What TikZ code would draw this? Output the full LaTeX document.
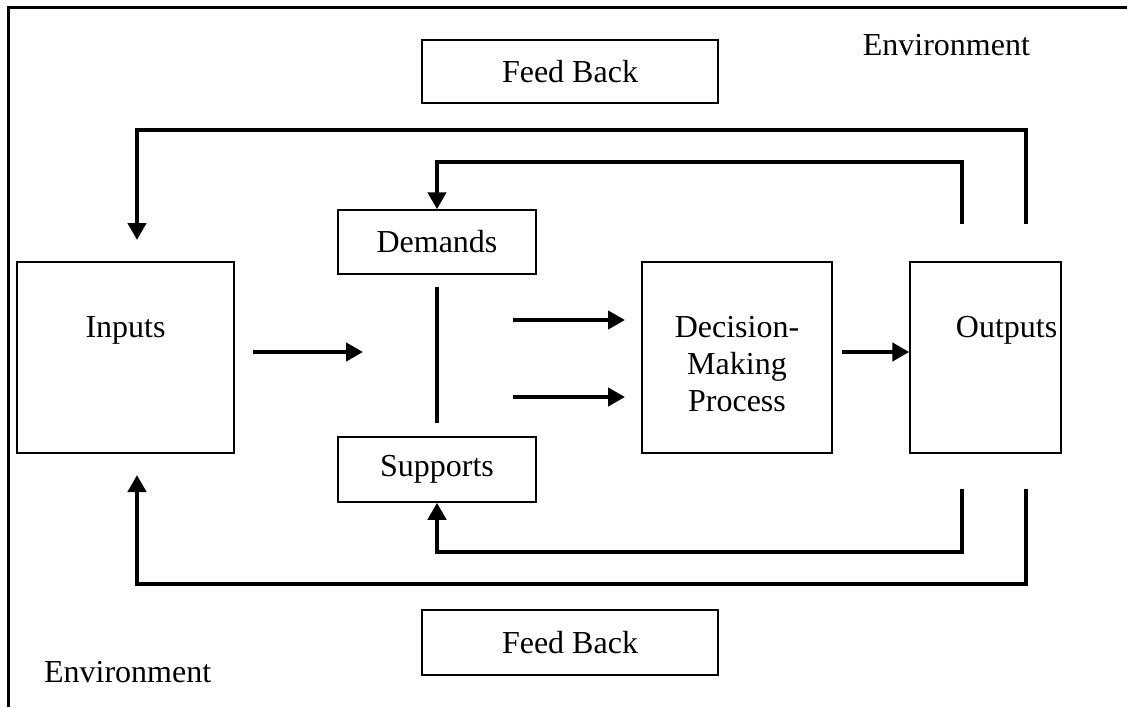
\documentclass[tikz,border=0pt]{standalone}
\usepackage{fontspec}
\setmainfont{Liberation Serif}
\usetikzlibrary{arrows.meta,positioning,calc}

\tikzset{
  box/.style={draw,line width=0.75pt,inner sep=0pt},
  boxtext/.style={inner sep=0pt},
  fb/.style={line width=2.4pt,-{Triangle[length=8.5pt,width=9pt]}},
}

\begin{document}
\begin{tikzpicture}[x=0.5pt,y=-0.5pt,font=\fontsize{16}{18.4}\selectfont]
  \useasboundingbox (0,0) rectangle (1127,707);
  % --- environment frame, only top and left edges show
  \draw[line width=1.5pt] (8,707) -- (8,7) -- (1127,7);
  \node[anchor=base east] (envtop) at (1037,55) {Environment};
  \node[anchor=base west] (envbot) at (37,682) {Environment};
  % --- feed back boxes
  \node[box,minimum width=148pt,minimum height=31.5pt] (fbtop) at (570,71.5) {Feed Back};
  \node[box,minimum width=148pt,minimum height=32.5pt] (fbbot) at (570,642.5) {Feed Back};
  % --- main boxes
  \node[box,minimum width=108.5pt,minimum height=95.5pt] (inputs) at (125.5,357.5) {};
  \node[boxtext,anchor=base] (inputstxt) at ([yshift=-38pt]inputs.north) {Inputs};
  \node[box,minimum width=99pt,minimum height=32pt] (demands) at (437,242) {Demands};
  \node[box,minimum width=99pt,minimum height=32.5pt] (supports) at (437,469.5) {Supports};
  \node[box,minimum width=95pt,minimum height=95.5pt] (dmp) at (737,357.5) {};
  \node[boxtext,anchor=north,align=center] (dmptxt) at ([yshift=-27.5pt]dmp.north)
    {Decision-\\Making\\Process};
  \node[box,minimum width=75.5pt,minimum height=95.5pt] (outputs) at (985.5,357.5) {};
  \node[boxtext,anchor=base west] (outputstxt) at ([xshift=-15pt,yshift=-38pt]outputs.north) {Outputs};
  % --- free ends of the connectors
  \coordinate (in1) at (253,352);
  \coordinate (in2) at (363,352);
  \coordinate (dm1) at (513,320);
  \coordinate (dm2) at (625,320);
  \coordinate (sp1) at (513,397);
  \coordinate (sp2) at (625,397);
  \coordinate (do1) at (842,352);
  \coordinate (tinner) at (962,224);
  \coordinate (touter) at (1026,224);
  \coordinate (binner) at (962,489);
  \coordinate (bouter) at (1026,489);
  \coordinate (intop) at (137,240);
  \coordinate (inbot) at (137,475);
  % --- flows
  \draw[fb] (in1) -- (in2);
  \draw[line width=2.4pt] ([yshift=-6pt]demands.south) -- ([yshift=6.5pt]supports.north);
  \draw[fb] (dm1) -- (dm2);
  \draw[fb] (sp1) -- (sp2);
  \draw[fb] (do1) -- (do1 -| outputs.west);
  % --- feed back loops
  \draw[fb] (tinner) -- ++(0,-62) -| (demands.north);
  \draw[fb] (touter) -- ++(0,-94) -| (intop);
  \draw[fb] (binner) -- ++(0,63) -| (supports.south);
  \draw[fb] (bouter) -- ++(0,95) -| (inbot);
\end{tikzpicture}
\end{document}
